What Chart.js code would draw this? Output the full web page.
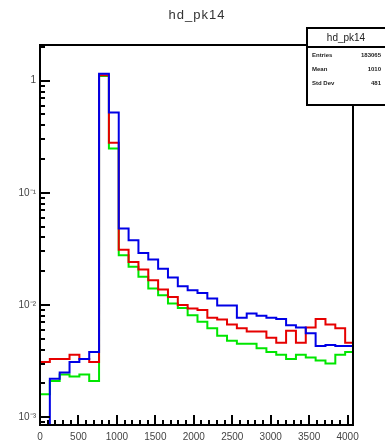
<!DOCTYPE html>
<html>
<head>
<meta charset="utf-8">
<script src="https://cdn.jsdelivr.net/npm/chart.js@4/dist/chart.umd.min.js"></script>
<style>
  html, body { margin: 0; padding: 0; background: #fff; }
  canvas { display: block; }
</style>
</head>
<body>
<canvas id="c" width="385" height="447"></canvas>
<script>
// histogram hd_pk14: 32 bins, 128 wide, log y
const binWidth = 128;
const blueCounts = [0.0008, 0.0022, 0.0025, 0.0031, 0.0033, 0.0038, 1.15, 0.52,
  0.048, 0.0378, 0.0291, 0.0254, 0.021, 0.0176, 0.0147, 0.0135,
  0.0128, 0.0114, 0.0099, 0.0099, 0.0077, 0.0084, 0.0080, 0.0077,
  0.0075, 0.0066, 0.0063, 0.0056, 0.0043, 0.0044, 0.0043, 0.0043];
const redCounts = [0.0031, 0.0033, 0.0033, 0.0036, 0.0033, 0.0031, 1.12, 0.28,
  0.031, 0.0242, 0.0207, 0.0166, 0.0137, 0.0118, 0.0100, 0.0093,
  0.0090, 0.0077, 0.0074, 0.0067, 0.0062, 0.0058, 0.0058, 0.0051,
  0.0046, 0.0059, 0.0046, 0.0063, 0.0075, 0.0067, 0.0062, 0.0046];
const greenCounts = [0.0016, 0.0021, 0.0024, 0.0023, 0.0024, 0.0021, 1.10, 0.249,
  0.0278, 0.0219, 0.0178, 0.014, 0.0122, 0.0103, 0.0094, 0.0081,
  0.0071, 0.0062, 0.0053, 0.0048, 0.0045, 0.0045, 0.0041, 0.0038,
  0.0036, 0.0033, 0.0036, 0.0034, 0.0032, 0.0030, 0.0036, 0.0038];
const xTickValues = [0, 500, 1000, 1500, 2000, 2500, 3000, 3500, 4000];
const yTickValues = [0.001, 0.01, 0.1, 1];
const yTickLabels = ['10\u207B\u00B3', '10\u207B\u00B2', '10\u207B\u00B9', '1'];
const histTitle = 'hd_pk14';
const statsRows = [['Entries', '183065'], ['Mean', '1010'], ['Std Dev', '481']];

// step points: left edge of each bin, plus closing right edge
function toSteps(counts) {
  const pts = counts.map((v, i) => ({ x: i * binWidth, y: v }));
  pts.push({ x: counts.length * binWidth, y: counts[counts.length - 1] });
  return pts;
}

const FONT = '"Liberation Sans", Arial, sans-serif';

const frameAndStats = {
  id: 'frameAndStats',
  afterDraw(chart) {
    const { ctx, chartArea: a, scales: { x, y } } = chart;
    ctx.save();
    // title
    ctx.fillStyle = '#333';
    ctx.textAlign = 'center';
    ctx.textBaseline = 'middle';
    ctx.font = '13px ' + FONT;
    ctx.letterSpacing = '1px';
    ctx.fillText(histTitle, 197, 15);
    ctx.letterSpacing = '0px';

    ctx.strokeStyle = '#000';
    ctx.lineWidth = 2;
    ctx.beginPath();
    // x ticks inside the frame
    for (let v = 0; v <= x.max; v += 100) {
      const px = Math.round(x.getPixelForValue(v));
      const len = v % 500 === 0 ? 10 : 5;
      ctx.moveTo(px, a.bottom);
      ctx.lineTo(px, a.bottom - len);
    }
    // y ticks, decades + minors
    for (let e = -4; e <= 0; e++) {
      for (let m = 1; m < 10; m++) {
        const v = m * Math.pow(10, e);
        if (v < y.min || v > y.max) continue;
        const py = Math.round(y.getPixelForValue(v));
        const len = m === 1 ? 10 : 5;
        ctx.moveTo(a.left, py);
        ctx.lineTo(a.left + len, py);
      }
    }
    ctx.stroke();
    ctx.strokeRect(a.left, a.top, a.right - a.left, a.bottom - a.top);

    // stats box
    const bx = 307, by = 28, bw = 82, bh = 77;
    ctx.fillStyle = '#fff';
    ctx.fillRect(bx, by, bw, bh);
    ctx.strokeRect(bx, by, bw, bh);
    ctx.beginPath();
    ctx.moveTo(bx, by + 19);
    ctx.lineTo(bx + bw, by + 19);
    ctx.stroke();
    ctx.fillStyle = '#222';
    ctx.textAlign = 'center';
    ctx.font = '10px ' + FONT;
    ctx.fillText(histTitle, 346, by + 10);
    ctx.font = 'bold 6px ' + FONT;
    statsRows.forEach((r, i) => {
      const ry = 55 + i * 14;
      ctx.textAlign = 'left';
      ctx.fillText(r[0], 312, ry);
      ctx.textAlign = 'right';
      ctx.fillText(r[1], 381, ry);
    });
    ctx.restore();
  }
};

new Chart(document.getElementById('c'), {
  type: 'line',
  data: {
    datasets: [
      { label: 'blue', data: toSteps(blueCounts), borderColor: '#0000e6' },
      { label: 'red', data: toSteps(redCounts), borderColor: '#e60000' },
      { label: 'green', data: toSteps(greenCounts), borderColor: '#00e600' }
    ].map(d => Object.assign(d, { stepped: 'before', borderWidth: 2, pointRadius: 0, fill: false }))
  },
  options: {
    responsive: false,
    animation: false,
    layout: { padding: { left: 0, right: 32, top: 45, bottom: 0 } },
    plugins: {
      legend: { display: false },
      tooltip: { enabled: false },
      title: { display: false }
    },
    scales: {
      x: {
        type: 'linear',
        min: 0,
        max: 4070,
        grid: { display: false, drawTicks: false },
        border: { display: false },
        afterBuildTicks: s => { s.ticks = xTickValues.map(v => ({ value: v })); },
        afterFit: s => { s.height = 22; },
        ticks: {
          autoSkip: false,
          maxRotation: 0,
          padding: 6,
          color: '#444',
          font: { family: FONT, size: 10 },
          callback: v => String(v)
        }
      },
      y: {
        type: 'logarithmic',
        min: 0.00085,
        max: 2.08,
        grid: { display: false, drawTicks: false },
        border: { display: false },
        afterBuildTicks: s => { s.ticks = yTickValues.map(v => ({ value: v })); },
        afterFit: s => { s.width = 40; },
        ticks: {
          autoSkip: false,
          padding: 4,
          color: '#444',
          font: { family: FONT, size: 10 },
          callback: v => {
            const i = yTickValues.findIndex(t => Math.abs(t - v) / t < 1e-6);
            return i >= 0 ? yTickLabels[i] : '';
          }
        }
      }
    }
  },
  plugins: [frameAndStats]
});
</script>
</body>
</html>
